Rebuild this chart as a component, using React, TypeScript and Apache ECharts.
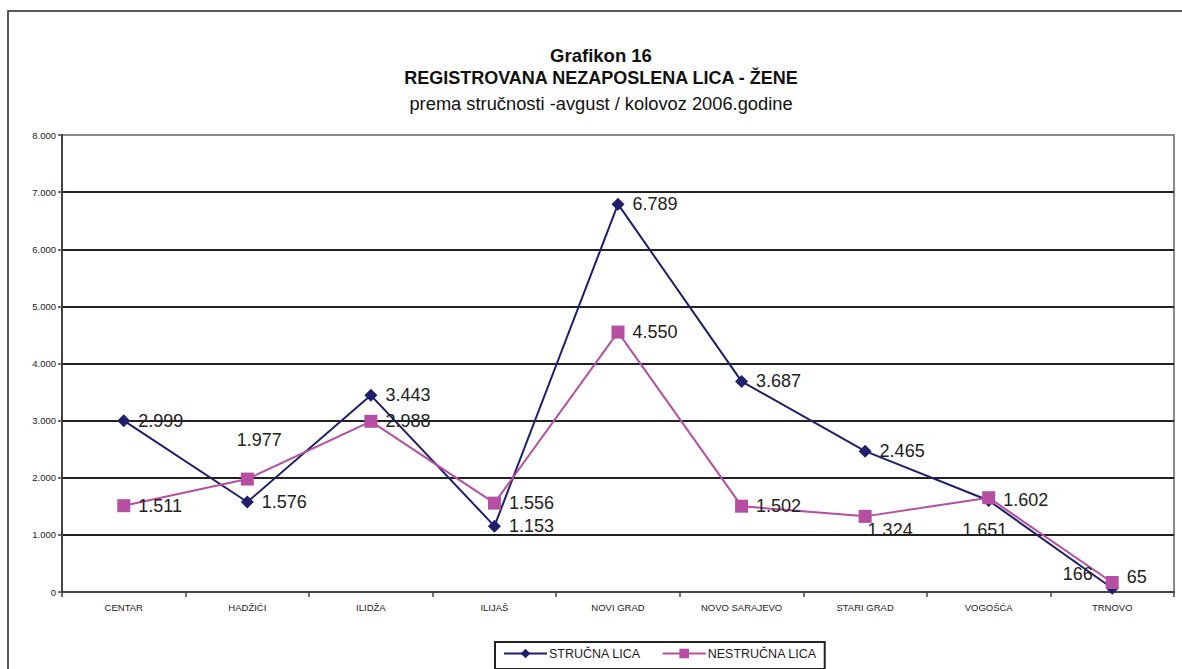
import React, { useEffect, useRef } from "react";
import * as echarts from "echarts";

const categories = ["CENTAR", "HADŽIĆI", "ILIDŽA", "ILIJAŠ", "NOVI GRAD", "NOVO SARAJEVO", "STARI GRAD", "VOGOŠĆA", "TRNOVO"];
const strucnaValues = [2999, 1576, 3443, 1153, 6789, 3687, 2465, 1602, 65];
const nestrucnaValues = [1511, 1977, 2988, 1556, 4550, 1502, 1324, 1651, 166];
const seriesNames = ["STRUČNA LICA", "NESTRUČNA LICA"];
const yTicks = { min: 0, max: 8000, interval: 1000 };

const titleLines = [
  "Grafikon 16",
  "REGISTROVANA NEZAPOSLENA LICA - ŽENE",
  "prema stručnosti -avgust / kolovoz 2006.godine",
];

// label offsets (style, relative to default right position)
const strucnaLabelOffsets: number[][] = [[0, 0], [0, 0], [0, 0], [0, 0], [0, 0], [0, 0], [0, 0], [0, 0], [0, -11]];
const nestrucnaLabelOffsets: number[][] = [[0, 0], [-25, -39], [0, 0], [0, 0], [0, 0], [0, 0], [-12, 14], [-41, 32], [-64, -9]];

const fmt = (v: number) => {
  const s = String(Math.round(v));
  return s.replace(/\B(?=(\d{3})+(?!\d))/g, ".");
};

const FONT = "'Liberation Sans', Arial, sans-serif";

export default function App() {
  const ref = useRef<HTMLDivElement>(null);
  useEffect(() => {
    if (!ref.current) return;
    const chart = echarts.init(ref.current, undefined, { renderer: "svg" });
    const labelBase = {
      show: true,
      position: "right" as const,
      distance: 8,
      fontSize: 18,
      fontFamily: FONT,
      color: "#222",
      formatter: (p: any) => fmt(p.value),
    };
    const gridColors = ["#222", "#222", "#222", "#222", "#222", "#222", "#222", "#222", "#8a8a8a"];
    const titleText = (text: string, y: number, size: number, weight: string) => ({
      type: "text",
      x: 601,
      y,
      silent: true,
      style: { text, fill: "#111", font: `${weight} ${size}px ${FONT}`, textAlign: "center", textVerticalAlign: "middle" },
    });
    chart.setOption({
      animation: false,
      backgroundColor: "#fff",
      textStyle: { fontFamily: FONT },
      graphic: [
        { type: "rect", shape: { x: 8, y: 11, width: 1400, height: 900 }, style: { fill: "none", stroke: "#222", lineWidth: 1.5 }, z: -1, silent: true },
        titleText(titleLines[0], 55, 18.5, "bold"),
        titleText(titleLines[1], 78, 18, "bold"),
        titleText(titleLines[2], 103, 18.3, "normal"),
      ],
      grid: { left: 62, right: 8, top: 135, bottom: 77, show: true, borderColor: "#8a8a8a", borderWidth: 2, backgroundColor: "transparent" },
      legend: {
        left: 495,
        top: 642,
        data: seriesNames,
        itemWidth: 43,
        itemHeight: 12,
        itemGap: 21,
        padding: [5, 8, 9, 8],
        borderColor: "#222",
        borderWidth: 2,
        textStyle: { fontSize: 12.5, color: "#222", fontFamily: FONT, padding: [0, 0, 0, -3] },
      },
      xAxis: {
        type: "category",
        data: categories,
        boundaryGap: true,
        axisLine: { lineStyle: { color: "#444", width: 2 } },
        axisTick: { show: true, length: 5, lineStyle: { color: "#444", width: 1.5 } },
        axisLabel: { fontSize: 9.5, color: "#222", margin: 10, fontFamily: FONT },
        splitLine: { show: false },
      },
      yAxis: {
        type: "value",
        min: yTicks.min,
        max: yTicks.max,
        interval: yTicks.interval,
        axisLine: { show: true, lineStyle: { color: "#444", width: 2 } },
        axisTick: { show: true, length: 4, lineStyle: { color: "#444", width: 1.5 } },
        axisLabel: { fontSize: 9.5, color: "#222", margin: 6, fontFamily: FONT, formatter: (v: number) => fmt(v) },
        splitLine: { show: true, lineStyle: { color: gridColors, width: 2 } },
      },
      series: [
        {
          name: seriesNames[0],
          type: "line",
          data: strucnaValues.map((v, i) => ({ value: v, label: { offset: strucnaLabelOffsets[i] } })),
          symbol: "diamond",
          symbolSize: 13,
          itemStyle: { color: "#1f1f6e" },
          lineStyle: { color: "#1f1f6e", width: 2 },
          label: labelBase,
          z: 3,
        },
        {
          name: seriesNames[1],
          type: "line",
          data: nestrucnaValues.map((v, i) => ({ value: v, label: { offset: nestrucnaLabelOffsets[i] } })),
          symbol: "rect",
          symbolSize: 13,
          itemStyle: { color: "#b64fa2" },
          lineStyle: { color: "#b64fa2", width: 2 },
          label: labelBase,
          z: 4,
        },
      ],
    });
    return () => chart.dispose();
  }, []);
  return <div ref={ref} style={{ position: "fixed", left: 0, top: 0, width: 1182, height: 669 }} />;
}
